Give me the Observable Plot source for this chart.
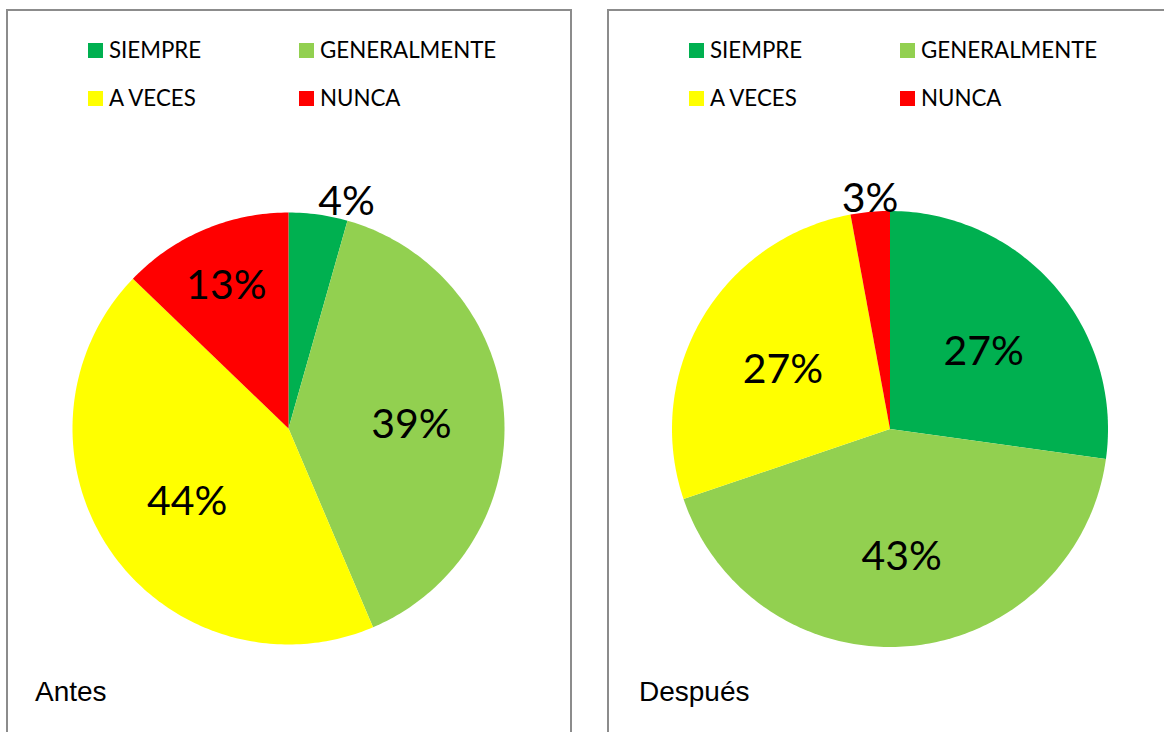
<!DOCTYPE html>
<html><head><meta charset="utf-8">
<script src="https://cdn.jsdelivr.net/npm/d3@7"></script>
<script src="https://cdn.jsdelivr.net/npm/@observablehq/plot@0.6"></script>
<style>
body{margin:0;width:1164px;height:732px;overflow:hidden;background:#fff;position:relative;font-family:Lato,sans-serif}
.panel{position:absolute;top:9px;width:566px;height:800px;border:2px solid #8c8c8c;box-sizing:border-box}
.sq{position:absolute;width:15px;height:15px}
.lt{position:absolute;font-size:22.3px;line-height:22px;color:#000;white-space:nowrap}
.cap{position:absolute;font-family:"Liberation Sans",Arial,sans-serif;font-size:28px;line-height:28px;color:#000;z-index:2}
.pie{position:absolute;z-index:1}
</style></head>
<body>
<script>
const categories = ["SIEMPRE", "GENERALMENTE", "A VECES", "NUNCA"];
const colors = ["#00B050", "#92D050", "#FFFF00", "#FF0000"];
const antes = [4.4, 39.2, 43.6, 12.8];
const despues = [27.2, 42.6, 27.3, 2.9];
const panelTitles = ["Antes", "Después"];
const panelValues = [antes, despues];
const radii = [216, 218];

const E = 1.25;

function wedges(values) {
  const arcs = d3.pie().sort(null).value(d => d)(values);
  return arcs.map((p, i) => {
    const n = Math.max(2, Math.ceil((p.endAngle - p.startAngle) / (Math.PI / 180)));
    const ring = [[0, 0]];
    for (let k = 0; k <= n; k++) {
      const a = p.startAngle + (p.endAngle - p.startAngle) * k / n;
      ring.push([Math.sin(a), -Math.cos(a)]);
    }
    ring.push([0, 0]);
    return {type: "Feature", properties: {category: categories[i], value: values[i], a0: p.startAngle, a1: p.endAngle},
      geometry: {type: "Polygon", coordinates: [ring]}};
  });
}

function labels(feats) {
  return feats.map(f => {
    const {a0, a1, value, category} = f.properties;
    const mid = (a0 + a1) / 2;
    const frac = value / 100;
    const outside = frac < 0.08;
    const r = outside ? 1.0 : 0.57 + Math.max(0, 0.2 - frac) * 2.3;
    return {category, label: Math.round(value) + "%", x: r * Math.sin(mid), y: -r * Math.cos(mid),
      outside, side: Math.sin(mid) > 0.1 ? "start" : Math.sin(mid) < -0.1 ? "end" : "middle"};
  });
}

panelTitles.forEach((title, pi) => {
  const panel = document.createElement("div");
  panel.className = "panel";
  panel.style.left = (6 + pi * 601) + "px";
  document.body.appendChild(panel);

  // legend
  categories.forEach((c, i) => {
    const col = i % 2, row = Math.floor(i / 2);
    const sq = document.createElement("div");
    sq.className = "sq";
    sq.style.background = colors[i];
    sq.style.left = (80 + col * 211) + "px";
    sq.style.top = (32 + row * 48) + "px";
    panel.appendChild(sq);
    const t = document.createElement("div");
    t.className = "lt";
    t.textContent = c;
    t.style.left = (101 + col * 211) + "px";
    t.style.top = (28 + row * 48) + "px";
    panel.appendChild(t);
  });

  const R = radii[pi];
  const feats = wedges(panelValues[pi]);
  const labs = labels(feats);
  const W = 2 * E * R;
  const txt = {x: "x", y: "y", text: "label", fontSize: 41, fontFamily: "Lato", fill: "black"};
  const chart = Plot.plot({
    width: W, height: W,
    margin: 0,
    projection: {type: "identity", domain: {type: "MultiPoint", coordinates: [[-E, -E], [E, E]]}},
    color: {type: "ordinal", domain: categories, range: colors},
    style: {background: "transparent", overflow: "visible"},
    marks: [
      Plot.geo(feats, {fill: d => d.properties.category}),
      Plot.text(labs.filter(d => !d.outside), {...txt, dy: 4}),
      Plot.text(labs.filter(d => d.outside && d.side === "start"), {...txt, lineAnchor: "bottom", textAnchor: "start"}),
      Plot.text(labs.filter(d => d.outside && d.side === "end"), {...txt, lineAnchor: "bottom", textAnchor: "end"}),
      Plot.text(labs.filter(d => d.outside && d.side === "middle"), {...txt, lineAnchor: "bottom", textAnchor: "middle"})
    ]
  });
  chart.classList.add("pie");
  chart.style.left = (280 - E * R) + "px";
  chart.style.top = (417 - E * R) + "px";
  panel.appendChild(chart);

  const cap = document.createElement("div");
  cap.className = "cap";
  cap.textContent = title;
  cap.style.left = (27 + pi * 3) + "px";
  cap.style.top = "667px";
  panel.appendChild(cap);
});
</script>
</body></html>
